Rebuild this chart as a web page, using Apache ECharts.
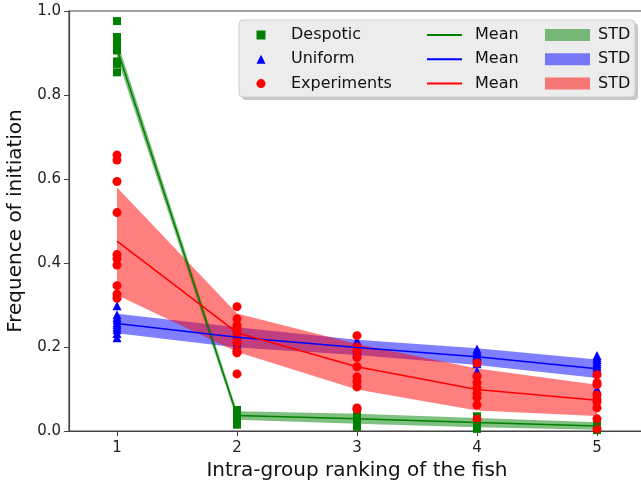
<!DOCTYPE html>
<html>
<head>
<meta charset="utf-8">
<script src="https://cdn.jsdelivr.net/npm/echarts@6/dist/echarts.min.js"></script>
<style>html,body{margin:0;padding:0;background:#fff}#c{width:641px;height:481px}</style>
</head>
<body>
<div id="c"></div>
<script>
// Rankings
const ranks = [1, 2, 3, 4, 5];
const xTicks = [1, 2, 3, 4, 5];

// Individual points per ranking
const despoticPoints = [
  [0.976, 0.938, 0.932, 0.926, 0.92, 0.914, 0.906, 0.88, 0.874, 0.854],
  [0.05, 0.045, 0.04, 0.036, 0.032, 0.028, 0.024, 0.02, 0.017, 0.015],
  [0.045, 0.04, 0.035, 0.03, 0.025, 0.022, 0.018, 0.015, 0.012, 0.01],
  [0.035, 0.03, 0.025, 0.02, 0.018, 0.015, 0.012, 0.01, 0.008, 0.005],
  [0.02, 0.017, 0.014, 0.012, 0.01, 0.008, 0.006, 0.004, 0.003, 0.002]
];
const uniformPoints = [
  [0.298, 0.277, 0.27, 0.265, 0.258, 0.253, 0.247, 0.241, 0.232, 0.222],
  [0.245, 0.24, 0.235, 0.228, 0.222, 0.218, 0.212, 0.205, 0.2, 0.195],
  [0.215, 0.21, 0.205, 0.2, 0.198, 0.195, 0.192, 0.19, 0.187, 0.185],
  [0.195, 0.19, 0.185, 0.18, 0.178, 0.175, 0.17, 0.165, 0.16, 0.142],
  [0.18, 0.175, 0.17, 0.165, 0.16, 0.155, 0.15, 0.145, 0.14, 0.1]
];
const experimentPoints = [
  [0.657, 0.645, 0.594, 0.52, 0.42, 0.41, 0.395, 0.346, 0.326, 0.316],
  [0.296, 0.267, 0.252, 0.245, 0.238, 0.224, 0.21, 0.19, 0.186, 0.136],
  [0.227, 0.2, 0.19, 0.175, 0.153, 0.129, 0.118, 0.105, 0.055, 0.052],
  [0.162, 0.13, 0.115, 0.103, 0.09, 0.08, 0.062, 0.028],
  [0.134, 0.115, 0.11, 0.086, 0.075, 0.069, 0.055, 0.029, 0.005]
];

// Means and standard deviations
const despoticMean = [0.91, 0.037, 0.029, 0.02, 0.012];
const despoticStd  = [0.02, 0.01, 0.012, 0.011, 0.009];
const uniformMean  = [0.256, 0.223, 0.199, 0.177, 0.148];
const uniformStd   = [0.023, 0.024, 0.018, 0.02, 0.022];
const experimentMean = [0.452, 0.234, 0.153, 0.099, 0.073];
const experimentStd  = [0.128, 0.046, 0.054, 0.05, 0.037];

const FONT = 'DejaVu Sans';
const GREEN = '#008000', BLUE = '#0000ff', RED = '#ff0000';
const GREEN_A = 'rgba(0,128,0,0.5)', BLUE_A = 'rgba(0,0,255,0.5)', RED_A = 'rgba(255,0,0,0.5)';

function pts(groups) {
  const out = [];
  groups.forEach((g, i) => g.forEach(v => out.push([ranks[i], v])));
  return out;
}
function meanData(mean) { return ranks.map((x, i) => [x, mean[i]]); }

function band(name, mean, std, color) {
  return {
    type: 'custom', name: name, z: 1, silent: true,
    itemStyle: { color: color },
    data: [[ranks[0], mean[0]]],
    renderItem: function (params, api) {
      const up = ranks.map((x, i) => api.coord([x, mean[i] + std[i]]));
      const lo = ranks.map((x, i) => api.coord([x, mean[i] - std[i]])).reverse();
      return { type: 'polygon', shape: { points: up.concat(lo) }, style: { fill: color } };
    }
  };
}
function meanLine(name, mean, color) {
  return {
    type: 'line', name: name, z: 3, symbol: 'none', data: meanData(mean),
    lineStyle: { color: color, width: 1.5 }, itemStyle: { color: color }
  };
}
function scatter(name, groups, symbol, size, color) {
  return {
    type: 'scatter', name: name, z: 2, symbol: symbol, symbolSize: size,
    data: pts(groups), itemStyle: { color: color, opacity: 1 }
  };
}

const chart = echarts.init(document.getElementById('c'), null, { renderer: 'canvas' });
const legendText = { fontFamily: FONT, fontSize: 16, color: '#111', lineHeight: 16 };
chart.setOption({
  animation: false,
  textStyle: { fontFamily: FONT },
  grid: { left: 69, top: 11, right: -4, bottom: 50, show: true, borderColor: '#444', borderWidth: 1.2,
    backgroundColor: 'transparent', containLabel: false, outerBoundsMode: 'none' },
  xAxis: {
    type: 'value', min: 0.6, max: 5.4,
    name: 'Intra-group ranking of the fish', nameLocation: 'middle', nameGap: 21,
    nameTextStyle: { fontFamily: FONT, fontSize: 20, color: '#111' },
    axisLine: { show: true, lineStyle: { color: '#444', width: 1.2 } },
    axisTick: { show: true, customValues: xTicks, length: 5, lineStyle: { color: '#444' } },
    axisLabel: { customValues: xTicks, margin: 10, fontSize: 15, color: '#222', fontFamily: FONT, formatter: v => String(v) },
    splitLine: { show: false }
  },
  yAxis: {
    type: 'value', min: 0, max: 1, interval: 0.2,
    name: 'Frequence of initiation', nameLocation: 'middle', nameGap: 29,
    nameTextStyle: { fontFamily: FONT, fontSize: 20, color: '#111' },
    axisLine: { show: true, lineStyle: { color: '#444', width: 1.2 } },
    axisTick: { show: true, length: 5, lineStyle: { color: '#444' } },
    axisLabel: { margin: 8, fontSize: 15, color: '#222', fontFamily: FONT, formatter: v => v.toFixed(1) },
    splitLine: { show: false }
  },
  graphic: [
    { type: 'rect', z: 50, shape: { x: 242, y: 23, width: 396, height: 77, r: 4 }, style: { fill: '#c8c8c8' } },
    { type: 'rect', z: 51, shape: { x: 239, y: 20, width: 396, height: 77, r: 4 }, style: { fill: '#ececec', stroke: '#cccccc', lineWidth: 1 } }
  ],
  legend: [
    { z: 60, orient: 'vertical', left: 256.5, top: 27, padding: 0, itemWidth: 9, itemHeight: 9, itemGap: 8.3,
      data: [{ name: 'Despotic', icon: 'rect' }, { name: 'Uniform', icon: 'triangle' }, { name: 'Experiments', icon: 'circle' }],
      textStyle: Object.assign({ padding: [0, 0, 0, 20.5] }, legendText), selectedMode: false },
    { z: 60, orient: 'vertical', left: 426, top: 27, padding: 0, itemWidth: 35, itemHeight: 12, itemGap: 8.3,
      itemStyle: { opacity: 0 },
      data: ['Mean (Despotic)', 'Mean (Uniform)', 'Mean (Experiments)'],
      formatter: () => 'Mean', textStyle: Object.assign({ padding: [0, 0, 0, 8] }, legendText), selectedMode: false },
    { z: 60, orient: 'vertical', left: 545, top: 27, padding: 0, itemWidth: 45, itemHeight: 12, itemGap: 8.3,
      data: [{ name: 'STD (Despotic)', icon: 'rect' }, { name: 'STD (Uniform)', icon: 'rect' }, { name: 'STD (Experiments)', icon: 'rect' }],
      formatter: () => 'STD', textStyle: Object.assign({ padding: [0, 0, 0, 3] }, legendText), selectedMode: false }
  ],
  series: [
    band('STD (Despotic)', despoticMean, despoticStd, GREEN_A),
    band('STD (Uniform)', uniformMean, uniformStd, BLUE_A),
    band('STD (Experiments)', experimentMean, experimentStd, RED_A),
    scatter('Despotic', despoticPoints, 'rect', 8, GREEN),
    scatter('Uniform', uniformPoints, 'triangle', 9, BLUE),
    scatter('Experiments', experimentPoints, 'circle', 9, RED),
    meanLine('Mean (Despotic)', despoticMean, GREEN),
    meanLine('Mean (Uniform)', uniformMean, BLUE),
    meanLine('Mean (Experiments)', experimentMean, RED)
  ]
});
</script>
</body>
</html>
